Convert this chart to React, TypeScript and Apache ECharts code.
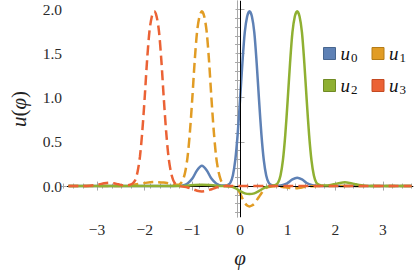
import React, { useEffect, useRef } from "react";
import * as echarts from "echarts";

const seriesNames = ["u0", "u1", "u2", "u3"];
const seriesColors = ["#5E81B5", "#E19C24", "#8FB032", "#EB6235"];
const seriesBorders = ["#48668f", "#b57c17", "#708b24", "#c44a22"];

const u0: [number, number][] = [
  [-3.6, 0], [-1.5, 0], [-1.3, 0.003], [-1.2, 0.008], [-1.1, 0.03], [-1.0, 0.085],
  [-0.9, 0.18], [-0.8, 0.23], [-0.7, 0.18], [-0.6, 0.085], [-0.5, 0.03], [-0.4, 0.008],
  [-0.3, 0.006], [-0.25, 0.014], [-0.2, 0.04], [-0.15, 0.12], [-0.1, 0.29], [-0.05, 0.58],
  [0, 0.97], [0.05, 1.39], [0.1, 1.74], [0.15, 1.92], [0.2, 1.98], [0.25, 1.92],
  [0.3, 1.74], [0.35, 1.39], [0.4, 0.97], [0.45, 0.58], [0.5, 0.29], [0.55, 0.12],
  [0.6, 0.04], [0.65, 0.014], [0.7, 0.006], [0.8, 0.005], [0.9, 0.012], [1.0, 0.035],
  [1.1, 0.075], [1.2, 0.094], [1.3, 0.075], [1.4, 0.035], [1.5, 0.012], [1.6, 0.003],
  [1.8, 0], [3.6, 0],
];

const u1: [number, number][] = [
  [-3.6, 0], [-2.6, 0], [-2.4, 0.005], [-2.2, 0.018], [-2.0, 0.035], [-1.8, 0.045],
  [-1.6, 0.04], [-1.45, 0.025], [-1.35, 0.014], [-1.3, 0.014], [-1.25, 0.028], [-1.2, 0.065],
  [-1.15, 0.16], [-1.1, 0.33], [-1.05, 0.62], [-1.0, 1.0], [-0.95, 1.42], [-0.9, 1.75],
  [-0.85, 1.92], [-0.8, 1.98], [-0.75, 1.92], [-0.7, 1.75], [-0.65, 1.42], [-0.6, 1.0],
  [-0.55, 0.62], [-0.5, 0.33], [-0.45, 0.16], [-0.4, 0.065], [-0.35, 0.022], [-0.3, 0.006],
  [-0.2, -0.003], [-0.1, -0.012], [-0.05, -0.035], [0, -0.08], [0.05, -0.14], [0.1, -0.19],
  [0.15, -0.22], [0.2, -0.23], [0.25, -0.22], [0.3, -0.2], [0.35, -0.16], [0.4, -0.12],
  [0.45, -0.08], [0.5, -0.045], [0.55, -0.022], [0.6, -0.01], [0.7, -0.002], [0.8, -0.004],
  [0.9, -0.01], [1.0, -0.018], [1.1, -0.025], [1.2, -0.024], [1.3, -0.015], [1.4, -0.006],
  [1.5, -0.002], [1.7, 0], [3.6, 0],
];

const u2: [number, number][] = [
  [-3.6, 0], [-1.3, 0], [-1.1, 0.005], [-0.95, 0.012], [-0.8, 0.015], [-0.65, 0.012],
  [-0.5, 0.005], [-0.35, 0], [-0.2, -0.006], [-0.1, -0.022], [0, -0.055], [0.1, -0.082],
  [0.2, -0.09], [0.3, -0.082], [0.4, -0.055], [0.5, -0.022], [0.6, -0.004], [0.7, 0.006],
  [0.75, 0.014], [0.8, 0.04], [0.85, 0.12], [0.9, 0.29], [0.95, 0.58], [1.0, 0.97],
  [1.05, 1.39], [1.1, 1.74], [1.15, 1.92], [1.2, 1.98], [1.25, 1.92], [1.3, 1.74],
  [1.35, 1.39], [1.4, 0.97], [1.45, 0.58], [1.5, 0.29], [1.55, 0.12], [1.6, 0.04],
  [1.65, 0.016], [1.7, 0.008], [1.8, 0.006], [1.9, 0.012], [2.0, 0.024], [2.1, 0.036],
  [2.2, 0.042], [2.3, 0.036], [2.4, 0.024], [2.5, 0.012], [2.6, 0.005], [2.75, 0], [3.6, 0],
];

const u3: [number, number][] = [
  [-3.6, 0], [-3.4, 0], [-3.15, 0.004], [-3.05, 0.01], [-2.95, 0.02], [-2.85, 0.032],
  [-2.75, 0.038], [-2.65, 0.032], [-2.55, 0.02], [-2.45, 0.01], [-2.35, 0.01], [-2.3, 0.016],
  [-2.25, 0.03], [-2.2, 0.065], [-2.15, 0.16], [-2.1, 0.33], [-2.05, 0.62], [-2.0, 1.0],
  [-1.95, 1.42], [-1.9, 1.75], [-1.85, 1.92], [-1.8, 1.98], [-1.75, 1.92], [-1.7, 1.75],
  [-1.65, 1.42], [-1.6, 1.0], [-1.55, 0.62], [-1.5, 0.33], [-1.45, 0.16], [-1.4, 0.065],
  [-1.35, 0.022], [-1.3, 0.004], [-1.2, -0.006], [-1.1, -0.016], [-1.0, -0.034], [-0.9, -0.052],
  [-0.8, -0.06], [-0.7, -0.054], [-0.6, -0.036], [-0.5, -0.016], [-0.4, -0.005], [-0.3, 0],
  [3.6, 0],
];

const seriesData = [u0, u1, u2, u3];
const seriesDashed = [false, true, false, true];

const xMajorTicks = [-3, -2, -1, 0, 1, 2, 3];
const xMinorTicks = [
  -3.6, -3.4, -3.2, -2.8, -2.6, -2.4, -2.2, -1.8, -1.6, -1.4, -1.2, -0.8, -0.6, -0.4, -0.2,
  0.2, 0.4, 0.6, 0.8, 1.2, 1.4, 1.6, 1.8, 2.2, 2.4, 2.6, 2.8, 3.2, 3.4, 3.6,
];
const yMajorTicks = [0, 0.5, 1, 1.5, 2];
const yMinorTicks = [
  -0.3, -0.2, -0.1, 0.1, 0.2, 0.3, 0.4, 0.6, 0.7, 0.8, 0.9, 1.1, 1.2, 1.3, 1.4, 1.6, 1.7, 1.8, 1.9,
];

const X_MIN = -3.63;
const X_MAX = 3.63;
const Y_MIN = -0.35;
const Y_MAX = 2.095;

const SERIF = "'Liberation Serif', 'Times New Roman', serif";
const FRAME = "#a8a8a8";

export default function App() {
  const ref = useRef<HTMLDivElement>(null);

  useEffect(() => {
    if (!ref.current) return;
    const chart = echarts.init(ref.current, undefined, { renderer: "svg" });

    const gridRect = { left: 62, top: 1, right: 2, bottom: 59 };

    const mkX = (grid: number, pos: string, ticks: number[], len: number, labels: boolean) => ({
      type: "value",
      gridIndex: grid,
      position: pos,
      min: X_MIN,
      max: X_MAX,
      axisLine: { show: true, lineStyle: { color: FRAME, width: 1 } },
      axisTick: { show: true, inside: true, length: len, customValues: ticks, lineStyle: { color: FRAME, width: 1 } },
      axisLabel: {
        show: labels,
        customValues: ticks,
        margin: 4,
        color: "#2a2a2a",
        fontFamily: SERIF,
        fontSize: 15.5,
        formatter: (v: number) => (v < 0 ? "\u2212" + Math.abs(v) : String(v)),
      },
      splitLine: { show: false },
    });
    const mkY = (grid: number, pos: string, ticks: number[], len: number, labels: boolean) => ({
      type: "value",
      gridIndex: grid,
      position: pos,
      min: Y_MIN,
      max: Y_MAX,
      axisLine: { show: true, lineStyle: { color: FRAME, width: 1 } },
      axisTick: { show: true, inside: true, length: len, customValues: ticks, lineStyle: { color: FRAME, width: 1 } },
      axisLabel: {
        show: labels,
        customValues: ticks,
        margin: 5,
        color: "#2a2a2a",
        fontFamily: SERIF,
        fontSize: 15.5,
        formatter: (v: number) => v.toFixed(1),
      },
      splitLine: { show: false },
    });

    const xAxes: any[] = [
      {
        ...mkX(0, "bottom", xMajorTicks, 4.5, true),
        name: "{i|\u03C6}",
        nameLocation: "middle",
        nameGap: 30,
        nameTextStyle: { rich: { i: { fontFamily: SERIF, fontStyle: "italic", fontSize: 21, color: "#222" } } },
      },
      mkX(0, "top", xMajorTicks, 4.5, false),
      mkX(1, "bottom", xMinorTicks, 2.5, false),
      mkX(1, "top", xMinorTicks, 2.5, false),
    ];
    const yAxes: any[] = [
      {
        ...mkY(0, "left", yMajorTicks, 4.5, true),
        name: "{i|u}{n|(}{i|\u03C6}{n|)}",
        nameLocation: "middle",
        nameRotate: 90,
        nameGap: 38,
        nameTextStyle: {
          rich: {
            i: { fontFamily: SERIF, fontStyle: "italic", fontSize: 21, color: "#222" },
            n: { fontFamily: SERIF, fontSize: 21, color: "#222" },
          },
        },
      },
      mkY(0, "right", yMajorTicks, 4.5, false),
      mkY(1, "left", yMinorTicks, 2.5, false),
      mkY(1, "right", yMinorTicks, 2.5, false),
    ];

    const series: any[] = seriesNames.map((name, i) => ({
      name,
      type: "line",
      xAxisIndex: 0,
      yAxisIndex: 0,
      data: seriesData[i],
      showSymbol: false,
      symbol: "none",
      smooth: 0.3,
      color: seriesColors[i],
      lineStyle: {
        color: seriesColors[i],
        width: 2.5,
        type: seriesDashed[i] ? [10, 5] : "solid",
      },
      z: 3 + i,
      markLine:
        i === 0
          ? {
              silent: true,
              symbol: ["none", "none"],
              label: { show: false },
              lineStyle: { color: "#000", width: 1, type: "solid" },
              data: [{ yAxis: 0 }, { xAxis: 0 }],
            }
          : undefined,
    }));

    const legendRich = {
      u: { fontFamily: SERIF, fontStyle: "italic", fontSize: 19, color: "#111", lineHeight: 20 },
      s: { fontFamily: SERIF, fontSize: 13, color: "#111", verticalAlign: "bottom", lineHeight: 12, padding: [0, 0, 0, 1] },
    };
    const mkLegend = (names: string[], top: number) => ({
      data: names.map((n) => {
        const k = seriesNames.indexOf(n);
        return {
          name: n,
          icon: "rect",
          itemStyle: { color: seriesColors[k], borderColor: seriesBorders[k], borderWidth: 1 },
        };
      }),
      left: 318,
      top,
      orient: "horizontal",
      itemWidth: 12,
      itemHeight: 12,
      itemGap: 14,
      selectedMode: false,
      formatter: (n: string) => `{u|${n.charAt(0)}}{s|${n.slice(1)}}`,
      textStyle: { rich: legendRich },
    });

    chart.setOption({
      animation: false,
      backgroundColor: "#fff",
      grid: [
        { ...gridRect, containLabel: false },
        { ...gridRect, containLabel: false },
      ],
      xAxis: xAxes,
      yAxis: yAxes,
      legend: [mkLegend(["u0", "u1"], 39), mkLegend(["u2", "u3"], 71)],
      series,
    });

    return () => chart.dispose();
  }, []);

  return (
    <div
      ref={ref}
      style={{ position: "fixed", left: 0, top: 0, width: 415, height: 276 }}
    />
  );
}
